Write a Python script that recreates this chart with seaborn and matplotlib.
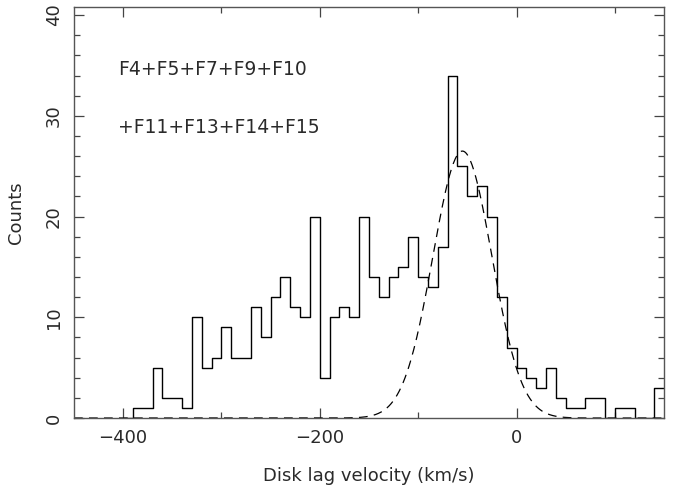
import numpy as np
import pandas as pd
import seaborn as sns
import matplotlib.pyplot as plt
from matplotlib.ticker import MultipleLocator

# Histogram: 10 km/s bins starting at -390
bin_start = -390
bin_width = 10
counts = [1, 1, 5, 2, 2, 1, 10, 5, 6, 9,
          6, 6, 11, 8, 12, 14, 11, 10, 20, 4,
          10, 11, 10, 20, 14, 12, 14, 15, 18, 14,
          13, 17, 34, 25, 22, 23, 20, 12, 7, 5,
          4, 3, 5, 2, 1, 1, 2, 2, 0, 1,
          1, 0, 0, 3]

# Gaussian fit (dashed)
g_amp = 26.5
g_mean = -55.0
g_sigma = 30.0

label_1 = "F4+F5+F7+F9+F10"
label_2 = "+F11+F13+F14+F15"

sns.set_style("ticks")
plt.rcParams['font.family'] = ['DejaVu Sans']

ink = "#2a2a2a"

# a zero bin in front so the step rises from the baseline at -390
edges = bin_start + bin_width * np.arange(len(counts) + 2) - bin_width
heights = [0] + counts
df = pd.DataFrame({"v": edges[:-1] + bin_width / 2, "n": heights})

fig = plt.figure(figsize=(6.83, 4.94), dpi=100)
ax = fig.add_axes([0.1083, 0.1538, 0.8639, 0.832])

sns.histplot(data=df, x="v", weights="n", bins=list(edges), element="step",
             fill=False, color="black", linewidth=1.0, ax=ax)

xg = np.linspace(-450, 150, 600)
gauss = pd.DataFrame({"v": xg,
                      "g": g_amp * np.exp(-0.5 * ((xg - g_mean) / g_sigma) ** 2)})
sns.lineplot(data=gauss, x="v", y="g", color="black", linewidth=0.9, ax=ax)
ax.lines[-1].set_dashes([7, 5])

ax.set_xlim(-450, 150)
ax.set_ylim(0, 40.8)

ax.xaxis.set_major_locator(MultipleLocator(200))
ax.xaxis.set_minor_locator(MultipleLocator(100))
ax.yaxis.set_major_locator(MultipleLocator(10))
ax.yaxis.set_minor_locator(MultipleLocator(2))

ax.tick_params(which="both", direction="in", top=True, right=True,
               color="#444444", width=0.9, labelsize=13, labelcolor=ink)
ax.tick_params(which="major", length=7, pad=8)
ax.tick_params(which="minor", length=4)
for lab in ax.get_yticklabels():
    lab.set_rotation(90)
    lab.set_va("center")

for s in ax.spines.values():
    s.set_color("#555555")
    s.set_linewidth(1.0)

ax.set_xlabel("Disk lag velocity (km/s)", fontsize=13, color=ink, labelpad=14)
ax.set_ylabel("Counts", fontsize=13, color=ink, labelpad=14)

ax.text(0.0746, 0.847, label_1, transform=ax.transAxes, fontsize=13.5,
        color=ink, ha="left", va="center")
ax.text(0.0746, 0.706, label_2, transform=ax.transAxes, fontsize=13.5,
        color=ink, ha="left", va="center")

fig.savefig("out.png", dpi=100)
